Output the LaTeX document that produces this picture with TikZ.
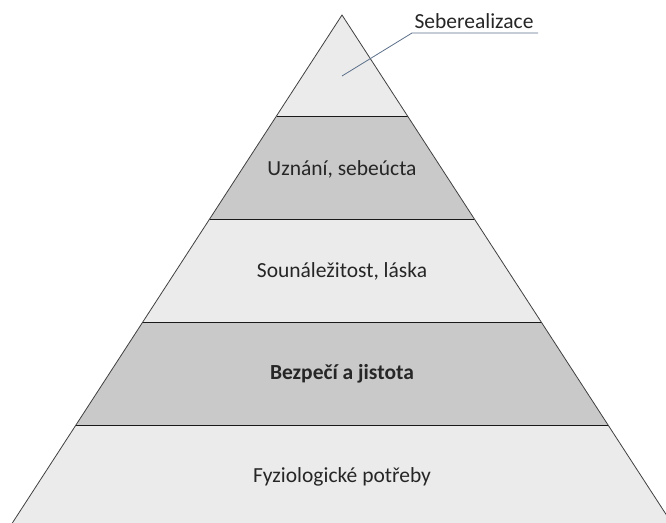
\documentclass[tikz,border=0pt]{standalone}
\usepackage{fontspec}
\setmainfont{Carlito}
\definecolor{lightlevel}{HTML}{EBEBEB}
\definecolor{darklevel}{HTML}{C9C9C9}
\definecolor{leader}{HTML}{5C6F8A}
\tikzstyle{edge} = [draw=black!75, line width=0.8pt]
\tikzstyle{sep} = [draw=black!90, line width=1pt]
\tikzstyle{label} = [font=\fontsize{21.5}{24}\selectfont, text=black!85, anchor=base, inner sep=0pt]

\begin{document}
\begin{tikzpicture}[x=1pt, y=-1pt]
    \useasboundingbox (0,0) rectangle (666,522);
    \clip (0,0) rectangle (666,522);
    % bands, top to bottom
    \fill [lightlevel] (342,15) -- (407.5,116) -- (276.5,116) -- cycle;
    \fill [darklevel]  (276.5,116) -- (407.5,116) -- (474.4,219) -- (209.6,219) -- cycle;
    \fill [lightlevel] (209.6,219) -- (474.4,219) -- (541.2,322) -- (142.8,322) -- cycle;
    \fill [darklevel]  (142.8,322) -- (541.2,322) -- (608.1,425) -- (75.9,425) -- cycle;
    \fill [lightlevel] (75.9,425) -- (608.1,425) -- (674.9,528) -- (9.1,528) -- cycle;
    \draw [sep] (276.5,116) -- (407.5,116);
    \draw [sep] (209.6,219) -- (474.4,219);
    \draw [sep] (142.8,322) -- (541.2,322);
    \draw [sep] (75.9,425) -- (608.1,425);
    \draw [edge] (9.1,528) -- (342,15) -- (674.9,528);
    % texts
    \node (top)  [label] at (474,28.5) {Seberealizace};
    \node (lvl4) [label] at (342,175)  {Uznání, sebeúcta};
    \node (lvl3) [label] at (342,277.5) {Sounáležitost, láska};
    \node (lvl2) [label, font=\fontsize{21.5}{24}\selectfont\bfseries] at (342,379.5) {Bezpečí a jistota};
    \node (lvl1) [label] at (342,482)  {Fyziologické potřeby};
    \coordinate (tip) at (342,76);
    \coordinate (bend) at (412,33);
    \coordinate (lend) at (538,33);
    \draw [leader, line width=0.8pt] (tip) -- (bend) -- (lend);
\end{tikzpicture}
\end{document}
